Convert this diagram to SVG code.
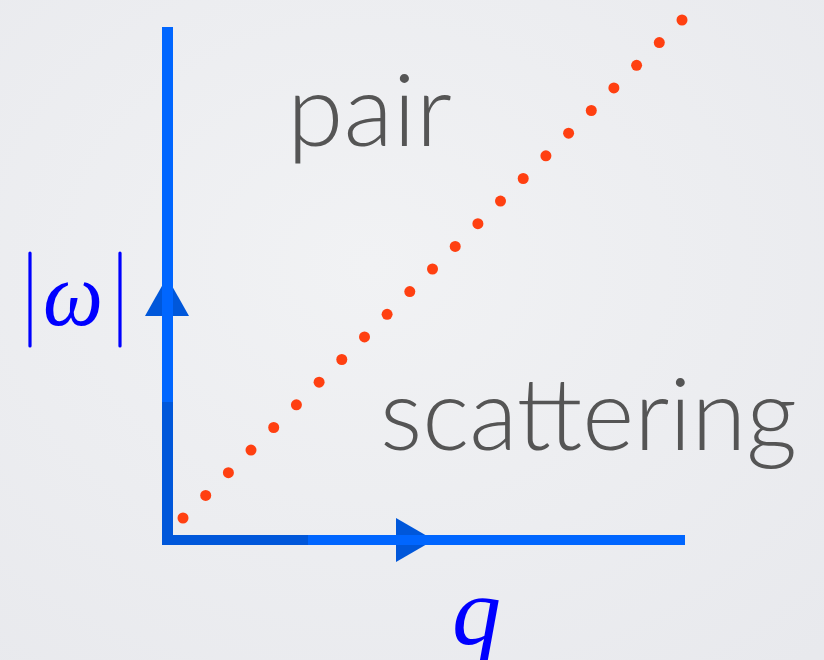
<svg xmlns="http://www.w3.org/2000/svg" width="824" height="660" viewBox="0 0 824 660">
<defs>
<style>
.lbl{font-family:"Lato","Open Sans","Liberation Sans",sans-serif;font-weight:300;fill:#555555}
.math{font-family:"Liberation Serif","DejaVu Serif",serif;font-style:italic;fill:#0000ff}
.bar{stroke:#0000ff;stroke-width:3.2;stroke-linecap:round}
.dark{fill:#0057da}
.bright{fill:#0066ff}
.dot{fill:#ff4011}
</style>
<radialGradient id="bg" cx="0.45" cy="0.4" r="0.8">
<stop offset="0" stop-color="#f1f2f4"/>
<stop offset="1" stop-color="#e8e9ed"/>
</radialGradient>
</defs>
<rect width="824" height="660" fill="url(#bg)"/>
<g id="connectors">
<g id="axis-omega">
<rect class="dark" x="162" y="395" width="11" height="150"/>
<polygon class="dark" points="145,316 189,316 167,277"/>
<rect class="bright" x="162" y="27" width="11" height="375"/>
</g>
<g id="axis-q">
<rect class="dark" x="162" y="535" width="150" height="10"/>
<polygon class="dark" points="396,518 396,562 434,540"/>
<rect class="bright" x="308" y="535" width="377" height="10"/>
</g>
<g id="boundary">
<circle class="dot" cx="183" cy="518" r="5.5"/>
<circle class="dot" cx="205.7" cy="495.4" r="5.5"/>
<circle class="dot" cx="228.4" cy="472.7" r="5.5"/>
<circle class="dot" cx="251" cy="450.1" r="5.5"/>
<circle class="dot" cx="273.7" cy="427.5" r="5.5"/>
<circle class="dot" cx="296.4" cy="404.8" r="5.5"/>
<circle class="dot" cx="319.1" cy="382.2" r="5.5"/>
<circle class="dot" cx="341.8" cy="359.5" r="5.5"/>
<circle class="dot" cx="364.5" cy="336.9" r="5.5"/>
<circle class="dot" cx="387.1" cy="314.3" r="5.5"/>
<circle class="dot" cx="409.8" cy="291.6" r="5.5"/>
<circle class="dot" cx="432.5" cy="269" r="5.5"/>
<circle class="dot" cx="455.2" cy="246.4" r="5.5"/>
<circle class="dot" cx="477.9" cy="223.7" r="5.5"/>
<circle class="dot" cx="500.5" cy="201.1" r="5.5"/>
<circle class="dot" cx="523.2" cy="178.5" r="5.5"/>
<circle class="dot" cx="545.9" cy="155.8" r="5.5"/>
<circle class="dot" cx="568.6" cy="133.2" r="5.5"/>
<circle class="dot" cx="591.3" cy="110.5" r="5.5"/>
<circle class="dot" cx="613.9" cy="87.9" r="5.5"/>
<circle class="dot" cx="636.6" cy="65.3" r="5.5"/>
<circle class="dot" cx="659.3" cy="42.6" r="5.5"/>
<circle class="dot" cx="682" cy="20" r="5.5"/>
</g>
</g>
<g id="label-pair">
<text class="lbl" x="287" y="146" font-size="100" textLength="165" lengthAdjust="spacingAndGlyphs">pair</text>
</g>
<g id="label-scattering">
<text class="lbl" x="380" y="450" font-size="100" textLength="417" lengthAdjust="spacingAndGlyphs">scattering</text>
</g>
<g id="label-omega">
<line class="bar" x1="30" y1="253" x2="30" y2="346"/>
<text class="math" x="43" y="325" font-size="92" textLength="60" lengthAdjust="spacingAndGlyphs">ω</text>
<line class="bar" x1="120" y1="253" x2="120" y2="346"/>
</g>
<g id="label-q">
<text class="math" x="452" y="644" font-size="98">q</text>
</g>
</svg>
